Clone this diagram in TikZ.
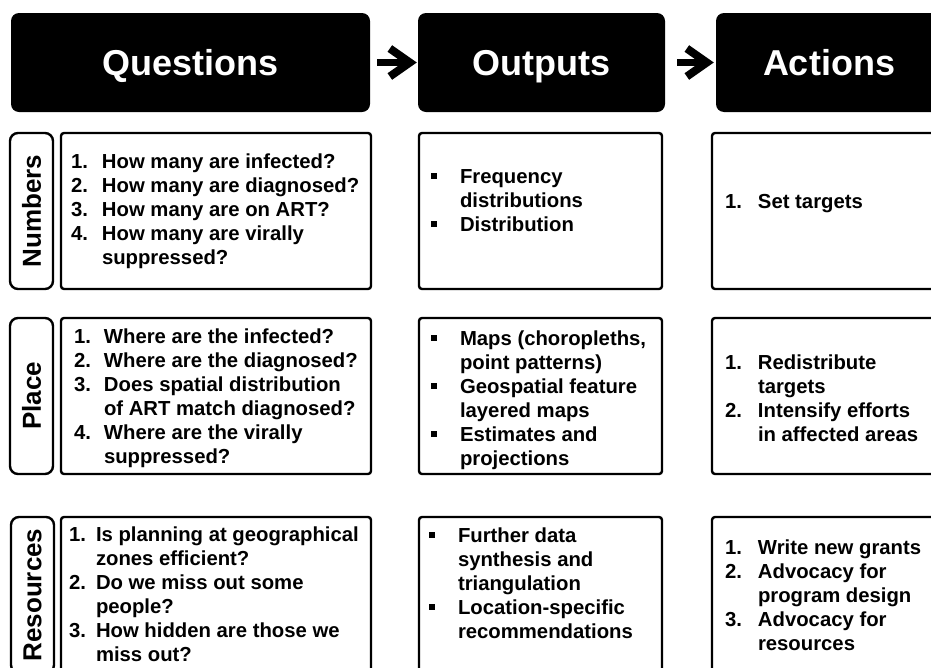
\documentclass[tikz,border=0pt]{standalone}
\usepackage{fontspec}
\setmainfont{Liberation Sans}
\usetikzlibrary{arrows.meta,positioning}
\newcommand{\headfnt}{\fontsize{36}{40}\selectfont\bfseries}
\newcommand{\sidefnt}{\fontsize{26}{30}\selectfont\bfseries}
\newcommand{\bodyfnt}{\fontsize{20.3}{24}\selectfont\bfseries}
\newcommand{\sqb}{\raisebox{4.5pt}{\rule{6pt}{6pt}}}

\begin{document}
\begin{tikzpicture}[x=1pt,y=-1pt,
	head/.style={fill=black,rounded corners=8pt,minimum height=99pt,inner sep=0pt,text height=26pt,text depth=0pt,text=white,font=\headfnt},
	side/.style={draw,line width=2.4pt,rounded corners=8pt,minimum width=43pt,minimum height=156pt,inner sep=0pt,font=\sidefnt},
	cell/.style={draw,line width=2.4pt,rounded corners=3pt,minimum height=156pt,inner sep=0pt},
	txt/.style={anchor=west,inner sep=0pt,font=\bodyfnt},
	flow/.style={line width=7.5pt,-{Straight Barb[length=20pt,width=28pt,line width=8pt]}}]
	\useasboundingbox (0,0) rectangle (931,667);
	% header row
	\node[head,minimum width=359pt] (hq) at (190.5,62.5) {Questions};
	\node[head,minimum width=247pt] (ho) at (541.5,62.5) {Outputs};
	\node[head,minimum width=226pt] (ha) at (829,62.5) {Actions};
	\draw[flow,shorten <=7pt,shorten >=1pt] (hq) -- (ho);
	\draw[flow,shorten <=12pt,shorten >=2pt] (ho) -- (ha);
	% numbers
	\node[side] (s1) at (31.5,211) {\rotatebox{90}{Numbers}};
	\node[cell,minimum width=310pt] (q1) at (216,211) {};
	\node[cell,minimum width=243pt] (o1) at (540.5,211) {};
	\node[cell,minimum width=243pt] (a1) at (833.5,211) {};
	\node[txt] (q1t) at ([xshift=11pt,yshift=-1pt]q1.west) {\begin{tabular}{@{}p{31pt}@{}l@{}}
		1. & How many are infected?\\
		2. & How many are diagnosed?\\
		3. & How many are on ART?\\
		4. & How many are virally\\
		   & suppressed?
	\end{tabular}};
	\node[txt] (o1t) at ([xshift=13pt,yshift=8pt]o1.west) {\begin{tabular}{@{}p{29pt}@{}l@{}}
		\sqb & Frequency\\
		     & distributions\\
		\sqb & Distribution
	\end{tabular}};
	\node[txt] (a1t) at ([xshift=14pt,yshift=7pt]a1.west) {\begin{tabular}{@{}p{33pt}@{}l@{}}
		1. & Set targets
	\end{tabular}};
	% place
	\node[side] (s2) at (31.5,396) {\rotatebox{90}{Place}};
	\node[cell,minimum width=310pt] (q2) at (216,396) {};
	\node[cell,minimum width=243pt] (o2) at (540.5,396) {};
	\node[cell,minimum width=243pt] (a2) at (833.5,396) {};
	\node[txt] (q2t) at ([xshift=14pt,yshift=-3pt]q2.west) {\begin{tabular}{@{}p{30pt}@{}l@{}}
		1. & Where are the infected?\\
		2. & Where are the diagnosed?\\
		3. & Does spatial distribution\\
		   & of ART match diagnosed?\\
		4. & Where are the virally\\
		   & suppressed?
	\end{tabular}};
	\node[txt] (o2t) at ([xshift=13pt,yshift=-5pt]o2.west) {\begin{tabular}{@{}p{29pt}@{}l@{}}
		\sqb & Maps (choropleths,\\
		     & point patterns)\\
		\sqb & Geospatial feature\\
		     & layered maps\\
		\sqb & Estimates and\\
		     & projections
	\end{tabular}};
	\node[txt] (a2t) at ([xshift=14pt,yshift=-5pt]a2.west) {\begin{tabular}{@{}p{33pt}@{}l@{}}
		1. & Redistribute\\
		   & targets\\
		2. & Intensify efforts\\
		   & in affected areas
	\end{tabular}};
	% resources
	\node[side] (s3) at (32.5,595) {\rotatebox{90}{Resources}};
	\node[cell,minimum width=310pt] (q3) at (216,595) {};
	\node[cell,minimum width=243pt] (o3) at (540.5,595) {};
	\node[cell,minimum width=243pt] (a3) at (833.5,595) {};
	\node[txt] (q3t) at ([xshift=9pt,yshift=-2pt]q3.west) {\begin{tabular}{@{}p{27pt}@{}l@{}}
		1. & Is planning at geographical\\
		   & zones efficient?\\
		2. & Do we miss out some\\
		   & people?\\
		3. & How hidden are those we\\
		   & miss out?
	\end{tabular}};
	\node[txt] (o3t) at ([xshift=11pt,yshift=9pt]o3.west) {\begin{tabular}{@{}p{29pt}@{}l@{}}
		\sqb & Further data\\
		     & synthesis and\\
		     & triangulation\\
		\sqb & Location-specific\\
		     & recommendations
	\end{tabular}};
	\node[txt] (a3t) at ([xshift=14pt,yshift=-3pt]a3.west) {\begin{tabular}{@{}p{33pt}@{}l@{}}
		1. & Write new grants\\
		2. & Advocacy for\\
		   & program design\\
		3. & Advocacy for\\
		   & resources
	\end{tabular}};
\end{tikzpicture}
\end{document}
